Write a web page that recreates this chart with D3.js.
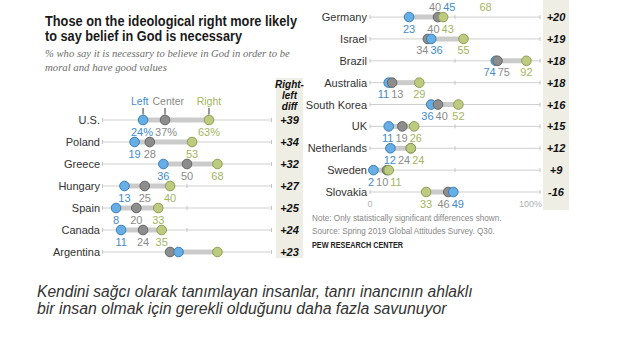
<!DOCTYPE html>
<html><head><meta charset="utf-8">
<script src="https://cdn.jsdelivr.net/npm/d3@7"></script>
<style>body{margin:0;background:#fff}svg{display:block}</style>
</head><body>
<script>
// ---- data ----
const leftCountries  = ["U.S.","Poland","Greece","Hungary","Spain","Canada","Argentina"];
const leftLeft       = [24,19,36,13,8,11,45];
const leftCenter     = [37,28,50,25,20,24,40];
const leftRight      = [63,53,68,40,33,35,68];
const leftDiff       = ["+39","+34","+32","+27","+25","+24","+23"];

const rightCountries = ["Argentina","Germany","Israel","Brazil","Australia","South Korea","UK","Netherlands","Sweden","Slovakia"];
const rightLeft      = [45,23,36,74,11,36,11,12,2,49];
const rightCenter    = [40,40,34,75,13,40,19,24,10,46];
const rightRight     = [68,43,55,92,29,52,26,24,11,33];
const rightDiff      = ["+23","+20","+19","+18","+18","+16","+15","+12","+9","-16"];

const seriesNames = ["Left","Center","Right"];
const axisTicks = [0,50,100];

const W=620,H=344;
const svg=d3.select("body").append("svg").attr("width",W).attr("height",H);
const FS="'Liberation Sans', Arial, sans-serif";
const col={Left:{fill:"#66aee3",stroke:"#3b7fb8",text:"#3f8ccb"},
           Center:{fill:"#8d8d8d",stroke:"#666",text:"#8a8a8a"},
           Right:{fill:"#bccb80",stroke:"#8f9e52",text:"#a4b55e"}};

function spread(labs,gap){
  labs.sort((a,b)=>a.x-b.x);
  for(let it=0;it<40;it++){
    for(let j=1;j<labs.length;j++){
      const a=labs[j-1],b=labs[j];const need=(a.w+b.w)/2+gap;const d=b.x-a.x;
      if(d<need){const sh=(need-d)/2;a.x-=sh;b.x+=sh;}
    }
  }
}
// scale font-size so the natural width matches the target width
function fit(sel,target){
  const fs=+sel.attr("font-size");const len=sel.node().getComputedTextLength();
  sel.attr("font-size",fs*target/len);return sel;
}

// title
const t=svg.append("g").attr("font-family",FS);
t.append("text").attr("x",45).attr("y",26).attr("font-size",14).attr("font-weight","bold").attr("fill","#1a1a1a")
 .attr("textLength",252).attr("lengthAdjust","spacingAndGlyphs").text("Those on the ideological right more likely");
t.append("text").attr("x",45).attr("y",41).attr("font-size",14).attr("font-weight","bold").attr("fill","#1a1a1a")
 .attr("textLength",197).attr("lengthAdjust","spacingAndGlyphs").text("to say belief in God is necessary");
fit(t.append("text").attr("x",45).attr("y",57).attr("font-size",11).attr("font-style","italic").attr("fill","#6d6d6d")
 .attr("font-family","'Liberation Serif', Georgia, serif")
 .text("% who say it is necessary to believe in God in order to be"),245);
fit(t.append("text").attr("x",45).attr("y",71).attr("font-size",11).attr("font-style","italic").attr("fill","#6d6d6d")
 .attr("font-family","'Liberation Serif', Georgia, serif")
 .text("moral and have good values"),122);

function panel(cfg){
  const g=svg.append("g").attr("font-family",FS);
  const clipId="clip"+cfg.id;
  svg.append("clipPath").attr("id",clipId).append("rect")
    .attr("x",cfg.clip[0]).attr("y",cfg.clip[1]).attr("width",cfg.clip[2]).attr("height",cfg.clip[3]);
  g.attr("clip-path",`url(#${clipId})`);
  const x=d3.scaleLinear().domain([0,100]).range(cfg.xr);
  const y=d3.scalePoint().domain(cfg.countries).range(cfg.yr);
  g.append("rect").attr("x",cfg.shade[0]).attr("y",cfg.shade[1]).attr("width",cfg.shade[2]).attr("height",cfg.shade[3]).attr("fill","#efeee5");
  cfg.countries.forEach((c,i)=>{
    const yy=y(c);
    const vals=[cfg.L[i],cfg.C[i],cfg.R[i]];
    const row=g.append("g");
    const cont=i<(cfg.contRows||0); // row continued from previous column: only its labels show
    const pts=seriesNames.map((s,k)=>({s,k,v:vals[k]})).sort((a,b)=>a.v-b.v||a.k-b.k);
    if(!cont){
      row.append("line").attr("x1",x(0)).attr("x2",x(100)).attr("y1",yy).attr("y2",yy).attr("stroke","#cfcfcf").attr("stroke-width",1);
      axisTicks.forEach(tk=>row.append("line").attr("x1",x(tk)).attr("x2",x(tk)).attr("y1",yy-2).attr("y2",yy+2).attr("stroke","#c4c4c4"));
      row.append("line").attr("x1",x(d3.min(vals))).attr("x2",x(d3.max(vals))).attr("y1",yy).attr("y2",yy).attr("stroke","#cbcbcb").attr("stroke-width",5);
      row.append("text").attr("x",cfg.labelX).attr("y",yy+4).attr("text-anchor","end").attr("font-size",11).attr("fill","#333").text(c);
      pts.forEach(p=>row.append("circle").attr("cx",x(p.v)).attr("cy",yy).attr("r",4.8)
        .attr("fill",col[p.s].fill).attr("stroke",col[p.s].stroke).attr("stroke-width",1));
      row.append("text").attr("x",cfg.diffX).attr("y",yy+4).attr("text-anchor","middle").attr("font-size",11)
        .attr("font-weight","bold").attr("font-style","italic").attr("fill","#111").text(cfg.D[i]);
    }
    const labs=pts.map(p=>{
      const txt=p.v+(i===0&&cfg.pct?"%":"");
      const el=row.append("text").attr("y",yy+15.5).attr("text-anchor","middle").attr("font-size",11).attr("fill",col[p.s].text).text(txt);
      return {el,x:x(p.v),w:el.node().getComputedTextLength()};
    });
    spread(labs,2);
    labs.forEach(l=>l.el.attr("x",l.x));
  });
  return {g,x,y};
}

const P1=panel({id:1,countries:leftCountries,L:leftLeft,C:leftCenter,R:leftRight,D:leftDiff,pct:true,
  xr:[102.5,271.5],yr:[120,252],labelX:100,diffX:289.5,shade:[276,78,27,180],clip:[0,0,306,258]});
const P2=panel({id:2,countries:rightCountries,L:rightLeft,C:rightCenter,R:rightRight,D:rightDiff,pct:false,contRows:1,
  xr:[370,540],yr:[-4.8,192],labelX:367,diffX:556,shade:[543,0,26,210],clip:[306,0,314,260]});

// legend
const lg=svg.append("g").attr("font-family",FS);
const legLabs=seriesNames.map((s,k)=>{
  const v=[leftLeft[0],leftCenter[0],leftRight[0]][k];
  const xx=P1.x(v);
  lg.append("line").attr("x1",xx).attr("x2",xx).attr("y1",108).attr("y2",114.5).attr("stroke","#333").attr("stroke-width",1);
  const el=lg.append("text").attr("y",105).attr("text-anchor","middle").attr("font-size",10.5).attr("fill",col[s].text).text(s);
  return {el,x:xx,w:el.node().getComputedTextLength()};
});
spread(legLabs,4);
legLabs.forEach(l=>l.el.attr("x",l.x));
// diff header
["Right-","left","diff"].forEach((w,k)=>lg.append("text").attr("x",289.5).attr("y",88+k*11).attr("text-anchor","middle")
  .attr("font-size",10).attr("font-weight","bold").attr("font-style","italic").attr("fill","#111").text(w));

// axis labels right panel
lg.append("text").attr("x",P2.x(0)).attr("y",207).attr("text-anchor","middle").attr("font-size",9).attr("fill","#b0b0b0").text("0");
lg.append("text").attr("x",P2.x(100)+2).attr("y",207).attr("text-anchor","end").attr("font-size",9).attr("fill","#b0b0b0").text("100%");

// notes
fit(lg.append("text").attr("x",312).attr("y",221).attr("font-size",9).attr("fill","#888")
  .text("Note: Only statistically significant differences shown."),190);
fit(lg.append("text").attr("x",312).attr("y",234).attr("font-size",9).attr("fill","#888")
  .text("Source: Spring 2019 Global Attitudes Survey. Q30."),183);
lg.append("text").attr("x",312).attr("y",248).attr("font-size",9).attr("font-weight","bold").attr("fill","#222").attr("textLength",91).attr("lengthAdjust","spacingAndGlyphs")
  .text("PEW RESEARCH CENTER");

// caption
const cap=svg.append("g").attr("font-family","'Liberation Sans',sans-serif").attr("font-style","italic").attr("fill","#333");
fit(cap.append("text").attr("x",37).attr("y",297).attr("font-size",15)
  .text("Kendini sağcı olarak tanımlayan insanlar, tanrı inancının ahlaklı"),436);
fit(cap.append("text").attr("x",37).attr("y",314).attr("font-size",15)
  .text("bir insan olmak için gerekli olduğunu daha fazla savunuyor"),410);
</script>
</body></html>
